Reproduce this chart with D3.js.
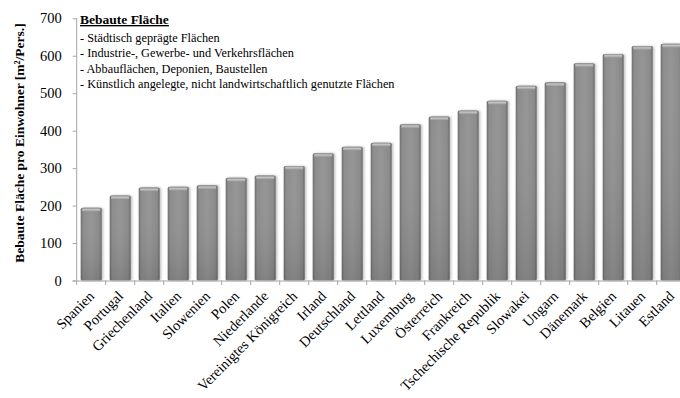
<!DOCTYPE html>
<html lang="de">
<head>
<meta charset="utf-8">
<title>Bebaute Fläche pro Einwohner</title>
<script src="https://d3js.org/d3.v7.min.js"></script>
<style>
  body{margin:0;background:#fff;font-family:"Liberation Serif",serif;}
  svg text{fill:#000;}
</style>
</head>
<body>
<div id="chart"></div>
<script>
// data
var countries = ["Spanien","Portugal","Griechenland","Italien","Slowenien","Polen","Niederlande",
  "Vereinigtes Königreich","Irland","Deutschland","Lettland","Luxemburg","Österreich","Frankreich",
  "Tschechische Republik","Slowakei","Ungarn","Dänemark","Belgien","Litauen","Estland"];
var values = [194,227,248,250,254,274,280,306,340,357,368,417,438,454,480,520,529,580,605,626,632];
var yTicks = [0,100,200,300,400,500,600,700];
var legendTitle = "Bebaute Fläche";
var legendLines = ["- Städtisch geprägte Flächen",
  "- Industrie-, Gewerbe- und Verkehrsflächen",
  "- Abbauflächen, Deponien, Baustellen",
  "- Künstlich angelegte, nicht landwirtschaftlich genutzte Flächen"];
var yTitle = "Bebaute Fläche pro Einwohner [m²/Pers.]";

var w = 680, h = 398;
var x0 = 76.7, step = 29;

var svg = d3.select("#chart").append("svg")
  .attr("width", w).attr("height", h);

var defs = svg.append("defs");
var gH = defs.append("linearGradient").attr("id","barH").attr("x1","0").attr("x2","1").attr("y1","0").attr("y2","0");
gH.append("stop").attr("offset","0").attr("stop-color","#6c6c6c");
gH.append("stop").attr("offset","0.12").attr("stop-color","#8c8c8c");
gH.append("stop").attr("offset","0.5").attr("stop-color","#959595");
gH.append("stop").attr("offset","0.88").attr("stop-color","#8a8a8a");
gH.append("stop").attr("offset","1").attr("stop-color","#686868");
var gV = defs.append("linearGradient").attr("id","barV").attr("x1","0").attr("x2","0").attr("y1","0").attr("y2","1");
gV.append("stop").attr("offset","0").attr("stop-color","#fff").attr("stop-opacity",0);
gV.append("stop").attr("offset","1").attr("stop-color","#000").attr("stop-opacity",0.12);
var gT = defs.append("linearGradient").attr("id","barT").attr("x1","0").attr("x2","0").attr("y1","0").attr("y2","1");
gT.append("stop").attr("offset","0").attr("stop-color","#8a8a8a");
gT.append("stop").attr("offset","0.45").attr("stop-color","#c4c4c4");
gT.append("stop").attr("offset","1").attr("stop-color","#909090");
var sh = defs.append("filter").attr("id","shadow").attr("x","-20%").attr("y","-5%").attr("width","150%").attr("height","110%");
sh.append("feDropShadow").attr("dx",1.5).attr("dy",0).attr("stdDeviation",1.2)
  .attr("flood-color","#000").attr("flood-opacity",0.25);

var xScale = d3.scaleBand()
  .domain(countries)
  .range([x0, x0 + step * countries.length])
  .paddingInner(8/29)
  .paddingOuter(4/29);

var yScale = d3.scaleLinear()
  .domain([0, 700])
  .range([280.5, 18.3]);

// bars
var bars = svg.append("g").selectAll("g")
  .data(countries)
  .enter().append("g")
  .attr("filter","url(#shadow)");

bars.append("rect")
  .attr("x", function(d){ return xScale(d); })
  .attr("y", function(d,i){ return yScale(values[i]); })
  .attr("width", xScale.bandwidth())
  .attr("height", function(d,i){ return yScale(0) - yScale(values[i]); })
  .attr("rx", 1.5)
  .attr("fill","url(#barH)");
bars.append("rect")
  .attr("x", function(d){ return xScale(d); })
  .attr("y", function(d,i){ return yScale(values[i]); })
  .attr("width", xScale.bandwidth())
  .attr("height", function(d,i){ return yScale(0) - yScale(values[i]); })
  .attr("fill","url(#barV)");
bars.append("rect")
  .attr("x", function(d){ return xScale(d) + 1.5; })
  .attr("y", function(d,i){ return yScale(values[i]); })
  .attr("width", xScale.bandwidth() - 3)
  .attr("height", 4)
  .attr("rx", 1.5)
  .attr("fill","url(#barT)");

// y axis
var yAxis = d3.axisLeft(yScale)
  .tickValues(yTicks)
  .tickSize(4)
  .tickPadding(11)
  .tickFormat(d3.format("d"));
var gy = svg.append("g")
  .attr("transform","translate(" + x0 + ",0)")
  .call(yAxis);
gy.select(".domain").attr("stroke","#a6a6a6").attr("d","M0,18.3V280.5");
gy.selectAll(".tick line").attr("stroke","#a6a6a6");
gy.selectAll(".tick text")
  .attr("font-family","Liberation Serif, serif")
  .attr("font-size",14.5)
  .attr("fill","#000");

// x axis with ticks at band boundaries
var xAxis = d3.axisBottom(xScale).tickSize(0).tickFormat("");
var gx = svg.append("g")
  .attr("transform","translate(0," + yScale(0) + ")")
  .call(xAxis);
gx.select(".domain").attr("stroke","#a6a6a6").attr("d","M72.5,0.5H690");
var bounds = d3.range(countries.length + 1).map(function(i){ return x0 + i * xScale.step(); });
gx.selectAll(".bound").data(bounds).enter().append("line")
  .attr("class","bound")
  .attr("x1", function(d){ return d; }).attr("x2", function(d){ return d; })
  .attr("y1", 0).attr("y2", 4.5)
  .attr("stroke","#a6a6a6");

// category labels
svg.append("g").selectAll("text")
  .data(countries)
  .enter().append("text")
  .attr("transform", function(d){
    return "translate(" + (xScale(d) + xScale.bandwidth()/2 + 4) + ",297) rotate(-45)";
  })
  .attr("text-anchor","end")
  .attr("font-size",14.5)
  .text(function(d){ return d; });

// y title
svg.append("text")
  .attr("transform","translate(24,143) rotate(-90)")
  .attr("text-anchor","middle")
  .attr("font-weight","bold")
  .attr("font-size",13.5)
  .text(yTitle);

// legend text block
var lg = svg.append("g").attr("transform","translate(80,0)");
lg.append("text")
  .attr("x",0).attr("y",24)
  .attr("font-weight","bold")
  .attr("font-size",13.5)
  .attr("text-decoration","underline")
  .text(legendTitle);
lg.selectAll(".ll").data(legendLines).enter().append("text")
  .attr("class","ll")
  .attr("x",0)
  .attr("y", function(d,i){ return 42 + i * 15.3; })
  .attr("font-size",12.3)
  .text(function(d){ return d; });
</script>
</body>
</html>
